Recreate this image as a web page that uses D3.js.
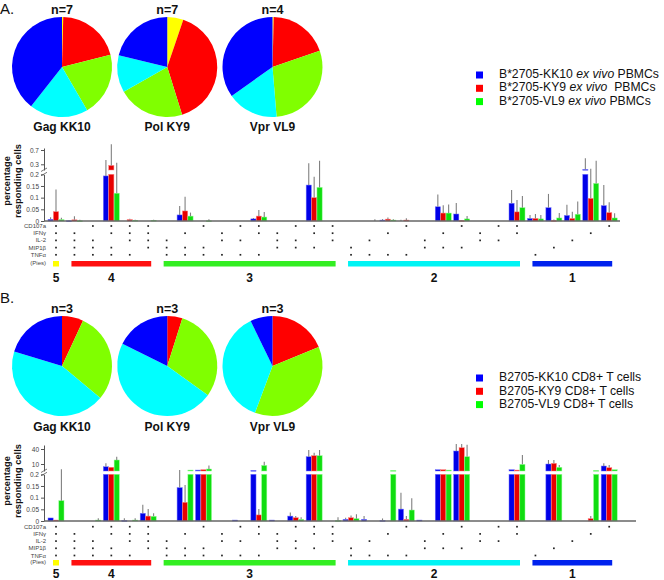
<!DOCTYPE html>
<html><head><meta charset="utf-8">
<script src="https://cdn.jsdelivr.net/npm/d3@7"></script>
<style>body{margin:0;background:#fff}svg{display:block;font-family:Arial,"Liberation Sans",sans-serif}</style>
</head><body><svg id="c" width="664" height="580"></svg>
<script>
// ---------- DATA ----------
const functions = ["CD107a", "IFNγ", "IL-2", "MIP1β", "TNFα"];
const pieRowLabel = "(Pies)";
// 31 function combinations (bit order = functions)
const combinations = ["11111","01111","10111","11011","11101","11110",
  "00111","01011","10011","01101","10101","11001","01110","10110","11010","11100",
  "00011","00101","01001","10001","00110","01010","10010","01100","10100","11000",
  "00001","00010","00100","01000","10000"];
const groupLabels = ["5", "4", "3", "2", "1"];
const pieNames = ["Gag KK10", "Pol KY9", "Vpr VL9"];

// Panel A
const aPieCounts = ["n=7", "n=7", "n=4"];
// slice fractions: 5,4,3,2,1 functions
const aPieGag = [0.004, 0.207, 0.205, 0.19, 0.394];
const aPiePol = [0.052, 0.40, 0.216, 0.12, 0.212];
const aPieVpr = [0.004, 0.193, 0.29, 0.165, 0.348];
const aLegend = ["B*2705-KK10 ex vivo PBMCs", "B*2705-KY9 ex vivo  PBMCs", "B*2705-VL9 ex vivo PBMCs"];
const aLowTicks = [0, 0.05, 0.1, 0.15, 0.2];
const aHighTicks = [0.3, 0.7];
const aKK10 = [0.007,0.001,0,0.193,0,0, 0,0.026,0,0,0,0.009,0,0,0.154,0, 0,0,0.004,0,0,0.061,0.03,0,0,0.076, 0.011,0.057,0.024,0.21,0.066];
const aKK10Err = [0.016,0.003,0,0.42,0,0, 0,0.064,0,0,0,0.013,0,0,0.33,0, 0,0,0.008,0.005,0,0.114,0.077,0,0,0.133, 0.026,0.116,0.07,0.47,0.154];
const aKY9 = [0.04,0.005,0,0.28,0.006,0, 0,0.043,0,0,0,0.021,0,0,0.1,0, 0,0,0.008,0.004,0,0.034,0.002,0,0,0.039, 0.011,0.002,0.011,0.097,0.036];
const aKY9Err = [0.135,0.02,0,0.87,0.01,0, 0,0.104,0,0,0,0.047,0,0,0.19,0, 0,0,0.015,0.012,0,0.067,0.004,0,0,0.09, 0.03,0.006,0.04,0.22,0.08];
const aVL9 = [0.006,0.001,0,0.119,0.003,0.003, 0,0.021,0.001,0,0,0.017,0,0,0.144,0, 0,0,0.004,0,0,0.034,0.009,0,0,0.057, 0.009,0.013,0.029,0.161,0.013];
const aVL9Err = [0.014,0.005,0,0.345,0.005,0.005, 0,0.036,0.007,0,0,0.039,0,0,0.4,0, 0,0.007,0.008,0,0,0.071,0.021,0,0,0.107, 0.026,0.034,0.083,0.4,0.033];

// Panel B
const bPieCounts = ["n=3", "n=3", "n=3"];
const bPieGag = [0, 0.069, 0.292, 0.436, 0.203];
const bPiePol = [0, 0.049, 0.30, 0.474, 0.177];
const bPieVpr = [0, 0.188, 0.369, 0.371, 0.072];
const bLegend = ["B2705-KK10 CD8+ T cells", "B2705-KY9 CD8+ T cells", "B2705-VL9 CD8+ T cells"];
const bLowTicks = [0, 0.05, 0.1, 0.15, 0.2];
const bHighTicks = [10, 40];
const bKK10 = [0.013,0,0,6.2,0.002,0.033, 0,0.143,1.5,0,0.004,1,0.004,0.021,24.6,0, 0.007,0.007,0.002,0.051,0.004,2,36,0,0,2, 0,10,0,0,7.2];
const bKK10Err = [0.013,0,0,11.3,0.012,0.07, 0,1.5,1.5,0,0.004,1,0.004,0.036,38,0, 0.014,0.021,0.011,0.121,0.004,2,50,0,0,2, 0,18,0,0,11.3];
const bKY9 = [0.004,0,0,5.4,0,0.021, 0,0.08,2,0,0,0.026,0,0.014,26.6,0, 0.014,0,0,0.007,0,2,42.6,0,0,1.5, 0,11.3,0,0.01,4.8];
const bKY9Err = [0.004,0,0,5.4,0,0.051, 0,0.154,2,0,0,0.051,0,0.021,32.6,0, 0.024,0,0,0.021,0,2,50,0,0,1.5, 0,18,0,0.021,8.6];
const bVL9 = [0.087,0,0.004,18,0.004,0.02, 0,1.5,3,0,0,8,0,0.007,26.6,0.002, 0.01,0,1,0.047,0,1.5,24.6,0,0,9.5, 0,5.4,0,1,2];
const bVL9Err = [2.5,0,0.012,24.6,0.012,0.033, 0,1.5,8,0,0,14.6,0,0.016,38,0.016, 0.029,0,1,0.097,0,1.5,48.6,0,0,28, 0,8.6,0,1,2];

// ---------- STYLE ----------
const pieColors = ["#ffff00", "#ff0000", "#80ff00", "#00ffff", "#0000ff"];
const groupColors = ["#ffff00", "#ff1010", "#33ee22", "#00f4f4", "#0022ee"];
const barColors = ["#0000e8", "#e80000", "#10dd10"];
const barStroke = ["#7777ff", "#ff8080", "#90ff90"];
const legendColors = ["#0000ff", "#ff0000", "#00ff00"];

const panels = [
  { label: "A.", labelY: 14, pieCy: 67, nY: 14, nameY: 131,
    counts: aPieCounts, pies: [aPieGag, aPiePol, aPieVpr], legend: aLegend, legendY: 75,
    base: 221, lowTop: 174.3, lowTicks: aLowTicks, highTicks: aHighTicks,
    highDomain: [0.2, 0.3, 0.7, 0.76], highRange: [170, 164.3, 150, 148],
    series: [aKK10, aKY9, aVL9], errs: [aKK10Err, aKY9Err, aVL9Err],
    axisEnd: 620, matTop: 226, groupBarY: 261, groupLabelY: 281.5, titleCy: 181 },
  { label: "B.", labelY: 303, pieCy: 366, nY: 313, nameY: 431,
    counts: bPieCounts, pies: [bPieGag, bPiePol, bPieVpr], legend: bLegend, legendY: 378,
    base: 521, lowTop: 474.3, lowTicks: bLowTicks, highTicks: bHighTicks,
    highDomain: [0.2, 10, 40, 48], highRange: [471, 464, 449, 445],
    series: [bKK10, bKY9, bVL9], errs: [bKK10Err, bKY9Err, bVL9Err],
    axisEnd: 636, matTop: 526.7, groupBarY: 560, groupLabelY: 577.5, titleCy: 481 }
];

// ---------- DRAW ----------
const svg = d3.select("#c");
svg.append("rect").attr("width", 664).attr("height", 580).attr("fill", "#fff");

const x = d3.scaleBand().domain(d3.range(combinations.length)).range([46.78, 618.42]).padding(0);
const xc = i => x(i) + x.bandwidth() / 2;
const xs = d3.scaleBand().domain([0, 1, 2]).range([-8, 8]).paddingInner(0.04);
const pieX = d3.scalePoint().domain(pieNames).range([62, 272.5]);
const pie = d3.pie().sort(null).value(d => d);
const arc = d3.arc().innerRadius(0).outerRadius(50);

panels.forEach(p => {
  const g = svg.append("g");
  g.append("text").attr("x", 0).attr("y", p.labelY).attr("font-size", 15).attr("fill", "#111").text(p.label);

  // pies
  p.pies.forEach((vals, k) => {
    const cx = pieX(pieNames[k]);
    const pg = g.append("g").attr("transform", `translate(${cx},${p.pieCy})`);
    pg.selectAll("path").data(pie(vals)).join("path")
      .attr("d", arc).attr("fill", (d, i) => pieColors[i]);
    g.append("text").attr("x", cx).attr("y", p.nY).attr("text-anchor", "middle")
      .attr("font-size", 12.5).attr("font-weight", "bold").attr("fill", "#111").text(p.counts[k]);
    g.append("text").attr("x", cx).attr("y", p.nameY).attr("text-anchor", "middle")
      .attr("font-size", 12).attr("font-weight", "bold").attr("fill", "#111").text(pieNames[k]);
  });

  // legend
  const ly = d3.scaleLinear().domain([0, 1]).range([p.legendY, p.legendY + 13.3]);
  p.legend.forEach((name, k) => {
    g.append("rect").attr("x", 476).attr("y", ly(k) - 3.5).attr("width", 7).attr("height", 7).attr("fill", legendColors[k]);
    const t = g.append("text").attr("x", 499).attr("y", ly(k)).attr("dominant-baseline", "middle")
      .attr("font-size", 12.2).attr("fill", "#111").style("white-space", "pre");
    const parts = name.split("ex vivo");
    if (parts.length > 1) {
      t.append("tspan").text(parts[0]);
      t.append("tspan").attr("font-style", "italic").text("ex vivo");
      t.append("tspan").text(parts[1]);
    } else t.text(name);
  });

  // scales
  const yLow = d3.scaleLinear().domain([0, 0.2]).range([p.base, p.lowTop]);
  const yHigh = d3.scaleLinear().domain(p.highDomain).range(p.highRange);
  const yTop = v => v <= 0.2 ? yLow(v) : yHigh(v);

  // y title
  const tg = g.append("g").attr("transform", `translate(0,${p.titleCy}) rotate(-90)`);
  tg.append("text").attr("x", 0).attr("y", 8).attr("text-anchor", "middle").attr("dominant-baseline", "middle")
    .attr("font-size", 9.3).attr("font-weight", "bold").attr("fill", "#111").text("percentage");
  tg.append("text").attr("x", 0).attr("y", 18.5).attr("text-anchor", "middle").attr("dominant-baseline", "middle")
    .attr("font-size", 9.3).attr("font-weight", "bold").attr("fill", "#111").text("responding cells");

  // axes
  const styleAxis = a => {
    a.selectAll("path,line").attr("stroke", "#555");
    a.selectAll("text").attr("font-size", 6.5).attr("fill", "#444").attr("font-family", "Arial, sans-serif");
  };
  g.append("g").attr("transform", "translate(44,0)")
    .call(d3.axisLeft(yLow).tickValues(p.lowTicks).tickFormat(d => String(d)).tickSize(3).tickSizeOuter(0).tickPadding(2))
    .call(styleAxis);
  g.append("g").attr("transform", "translate(44,0)")
    .call(d3.axisLeft(yHigh).tickValues(p.highTicks).tickFormat(d => String(d)).tickSize(3).tickSizeOuter(0).tickPadding(2))
    .call(styleAxis);
  // break marks
  const hb = p.highRange[0];
  g.append("line").attr("x1", 41).attr("y1", p.lowTop + 1.5).attr("x2", 47).attr("y2", p.lowTop - 2).attr("stroke", "#555").attr("stroke-width", 0.8);
  g.append("line").attr("x1", 41).attr("y1", hb + 1.5).attr("x2", 47).attr("y2", hb - 2).attr("stroke", "#555").attr("stroke-width", 0.8);

  // bars
  const bg = g.append("g");
  combinations.forEach((c, i) => {
    p.series.forEach((ser, s) => {
      const v = ser[i];
      if (!(v > 0)) return;
      const bx = xc(i) + xs(s);
      const segs = v <= 0.2 ? [[yLow(v), yLow(0)]] : [[yLow(0.2), yLow(0)], [yHigh(v), yHigh(0.2)]];
      segs.forEach(([y0, y1]) => {
        bg.append("rect").attr("x", bx).attr("y", y0).attr("width", xs.bandwidth())
          .attr("height", Math.max(0.8, y1 - y0)).attr("fill", barColors[s])
          .attr("stroke", barStroke[s]).attr("stroke-width", 0.5);
      });
    });
  });
  // error bars
  combinations.forEach((c, i) => {
    p.series.forEach((ser, s) => {
      const v = ser[i], e = p.errs[s][i];
      if (!(e > v)) return;
      const ex = xc(i) + xs(s) + xs.bandwidth() / 2;
      bg.append("line").attr("x1", ex).attr("x2", ex).attr("y1", yTop(v)).attr("y2", yTop(e))
        .attr("stroke", "#808080").attr("stroke-width", 1.1);
    });
  });

  // x baseline
  g.append("line").attr("x1", 44).attr("x2", p.axisEnd).attr("y1", p.base).attr("y2", p.base)
    .attr("stroke", "#666").attr("stroke-width", 1.3);

  // matrix
  const rowY = d3.scaleLinear().domain([0, 1]).range([p.matTop, p.matTop + 7.2]);
  functions.forEach((f, k) => {
    g.append("text").attr("x", 46).attr("y", rowY(k) + 0.5).attr("text-anchor", "end").attr("dominant-baseline", "middle")
      .attr("font-size", 6).attr("fill", "#444").text(f);
  });
  g.append("text").attr("x", 46).attr("y", p.groupBarY + 2.8).attr("text-anchor", "end").attr("dominant-baseline", "middle")
    .attr("font-size", 6).attr("fill", "#444").text(pieRowLabel);
  combinations.forEach((c, i) => {
    c.split("").forEach((b, k) => {
      if (b === "1") g.append("rect").attr("x", xc(i) - 0.85).attr("y", rowY(k) - 0.85)
        .attr("width", 1.7).attr("height", 1.7).attr("fill", "#222");
    });
  });

  // group bars
  groupLabels.forEach((lab, gi) => {
    const nf = 5 - gi;
    const cols = d3.range(combinations.length).filter(i => combinations[i].split("").filter(b => b === "1").length === nf);
    const x0 = xc(cols[0]) - 3, x1 = xc(cols[cols.length - 1]) + 3;
    g.append("rect").attr("x", x0).attr("y", p.groupBarY).attr("width", x1 - x0).attr("height", 5.5)
      .attr("fill", groupColors[gi]);
    g.append("text").attr("x", (xc(cols[0]) + xc(cols[cols.length - 1])) / 2).attr("y", p.groupLabelY)
      .attr("text-anchor", "middle").attr("font-size", 12).attr("font-weight", "bold").attr("fill", "#111").text(lab);
  });
});
</script></body></html>
